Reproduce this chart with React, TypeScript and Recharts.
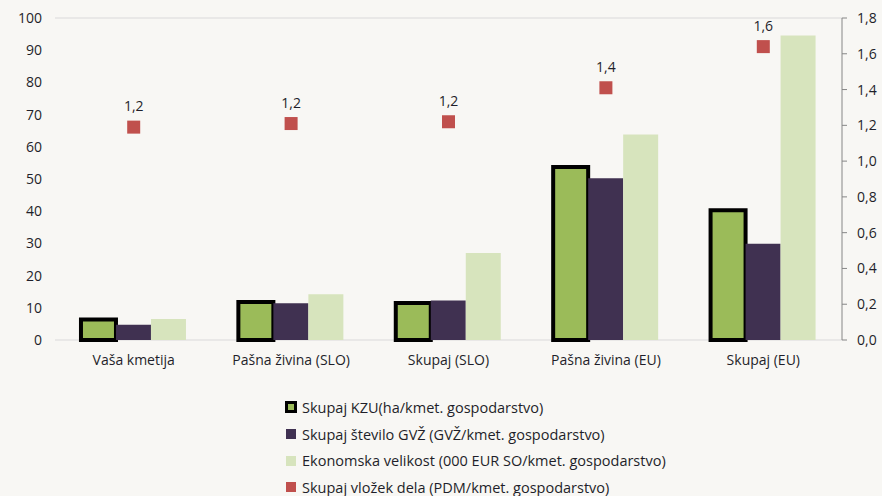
import React from "react";
import {
  ComposedChart,
  Bar,
  Scatter,
  XAxis,
  YAxis,
  CartesianGrid,
  Legend,
} from "recharts";

const categories = [
  "Vaša kmetija",
  "Pašna živina (SLO)",
  "Skupaj (SLO)",
  "Pašna živina (EU)",
  "Skupaj (EU)",
];
const kzu = [6.4, 11.8, 11.5, 53.7, 40.3];
const gvz = [4.7, 11.4, 12.3, 50.2, 29.9];
const ekonomska = [6.5, 14.2, 27, 63.8, 94.6];
const vlozek = [1.19, 1.21, 1.22, 1.41, 1.64];

const leftTicks = [0, 10, 20, 30, 40, 50, 60, 70, 80, 90, 100];
const rightTicks = [0, 0.2, 0.4, 0.6, 0.8, 1.0, 1.2, 1.4, 1.6, 1.8];

const seriesNames = [
  "Skupaj KZU(ha/kmet. gospodarstvo)",
  "Skupaj število GVŽ (GVŽ/kmet. gospodarstvo)",
  "Ekonomska velikost (000 EUR SO/kmet. gospodarstvo)",
  "Skupaj vložek dela (PDM/kmet. gospodarstvo)",
];

const GREEN = "#9bbb59";
const PURPLE = "#403151";
const LIGHT = "#d7e4bd";
const RED = "#c0504d";
const TEXT = "#1f1f2a";
const FONT = "'Open Sans', sans-serif";
const FS = 14;

const data = categories.map((name, i) => ({
  name,
  kzu: kzu[i],
  gvz: gvz[i],
  ekonomska: ekonomska[i],
  vlozek: vlozek[i],
}));

const comma = (v: number, digits = 1) => v.toFixed(digits).replace(".", ",");

document.body.style.margin = "0";

// square marker with its value printed above
const SquareMarker = (props: any) => {
  const { cx, cy, payload } = props;
  const s = 13;
  return (
    <g>
      <rect x={cx - s / 2} y={cy - s / 2} width={s} height={s} fill={RED} />
      <text
        x={cx}
        y={cy - 16}
        textAnchor="middle"
        fontSize={FS}
        fontFamily={FONT}
        fill={TEXT}
      >
        {comma(payload.vlozek)}
      </text>
    </g>
  );
};

const legendIcons = [
  <svg width={12} height={12} key="a">
    <rect x={1.5} y={1.5} width={9} height={9} fill={GREEN} stroke="#000" strokeWidth={3} />
  </svg>,
  <svg width={12} height={12} key="b">
    <rect x={1} y={1} width={10} height={10} fill={PURPLE} />
  </svg>,
  <svg width={12} height={12} key="c">
    <rect x={1} y={1} width={10} height={10} fill={LIGHT} />
  </svg>,
  <svg width={12} height={12} key="d">
    <rect x={1} y={1} width={10} height={10} fill={RED} />
  </svg>,
];

const LegendBox = () => (
  <div style={{ fontFamily: FONT, fontSize: 14.5, color: TEXT }}>
    {seriesNames.map((n, i) => (
      <div
        key={n}
        style={{ display: "flex", alignItems: "center", height: 26.7, gap: 5 }}
      >
        {legendIcons[i]}
        <span>{n}</span>
      </div>
    ))}
  </div>
);

export default function App() {
  return (
    <div style={{ width: 882, height: 496, background: "#f8f7f4", position: "relative" }}>
      <ComposedChart
        width={882}
        height={496}
        data={data}
        margin={{ top: 18, right: 0, left: 8, bottom: 126 }}
        barCategoryGap="16.5%"
        barGap={0}
      >
        <CartesianGrid vertical={false} stroke="#d9d9d9" strokeWidth={1.2} />
        <XAxis
          dataKey="name"
          height={30}
          axisLine={false}
          tickLine={false}
          tickSize={0}
          tickMargin={15}
          tick={{ fill: TEXT, fontSize: FS, fontFamily: FONT }}
          interval={0}
        />
        <YAxis
          yAxisId="left"
          domain={[0, 100]}
          ticks={leftTicks}
          width={47}
          axisLine={false}
          tickLine={false}
          tickSize={0}
          tickMargin={13}
          tick={{ fill: TEXT, fontSize: FS, fontFamily: FONT }}
        />
        <YAxis
          yAxisId="right"
          orientation="right"
          domain={[0, 1.8]}
          ticks={rightTicks}
          width={40}
          axisLine={{ stroke: "#868686" }}
          tickLine={{ stroke: "#868686" }}
          tickSize={5}
          tickMargin={10}
          tickFormatter={(v: number) => comma(v)}
          tick={{ fill: TEXT, fontSize: FS, fontFamily: FONT }}
        />
        <Bar
          yAxisId="left"
          dataKey="kzu"
          name={seriesNames[0]}
          fill={GREEN}
          stroke="#000"
          strokeWidth={4}
          isAnimationActive={false}
        />
        <Bar
          yAxisId="left"
          dataKey="gvz"
          name={seriesNames[1]}
          fill={PURPLE}
          isAnimationActive={false}
        />
        <Bar
          yAxisId="left"
          dataKey="ekonomska"
          name={seriesNames[2]}
          fill={LIGHT}
          isAnimationActive={false}
        />
        <Scatter
          yAxisId="right"
          dataKey="vlozek"
          name={seriesNames[3]}
          fill={RED}
          shape={SquareMarker}
          isAnimationActive={false}
        />
        <Legend
          layout="vertical"
          align="center"
          verticalAlign="middle"
          content={() => <LegendBox />}
          wrapperStyle={{ position: "absolute", top: 394, left: 285, width: 460, height: 110 }}
        />
      </ComposedChart>
    </div>
  );
}
